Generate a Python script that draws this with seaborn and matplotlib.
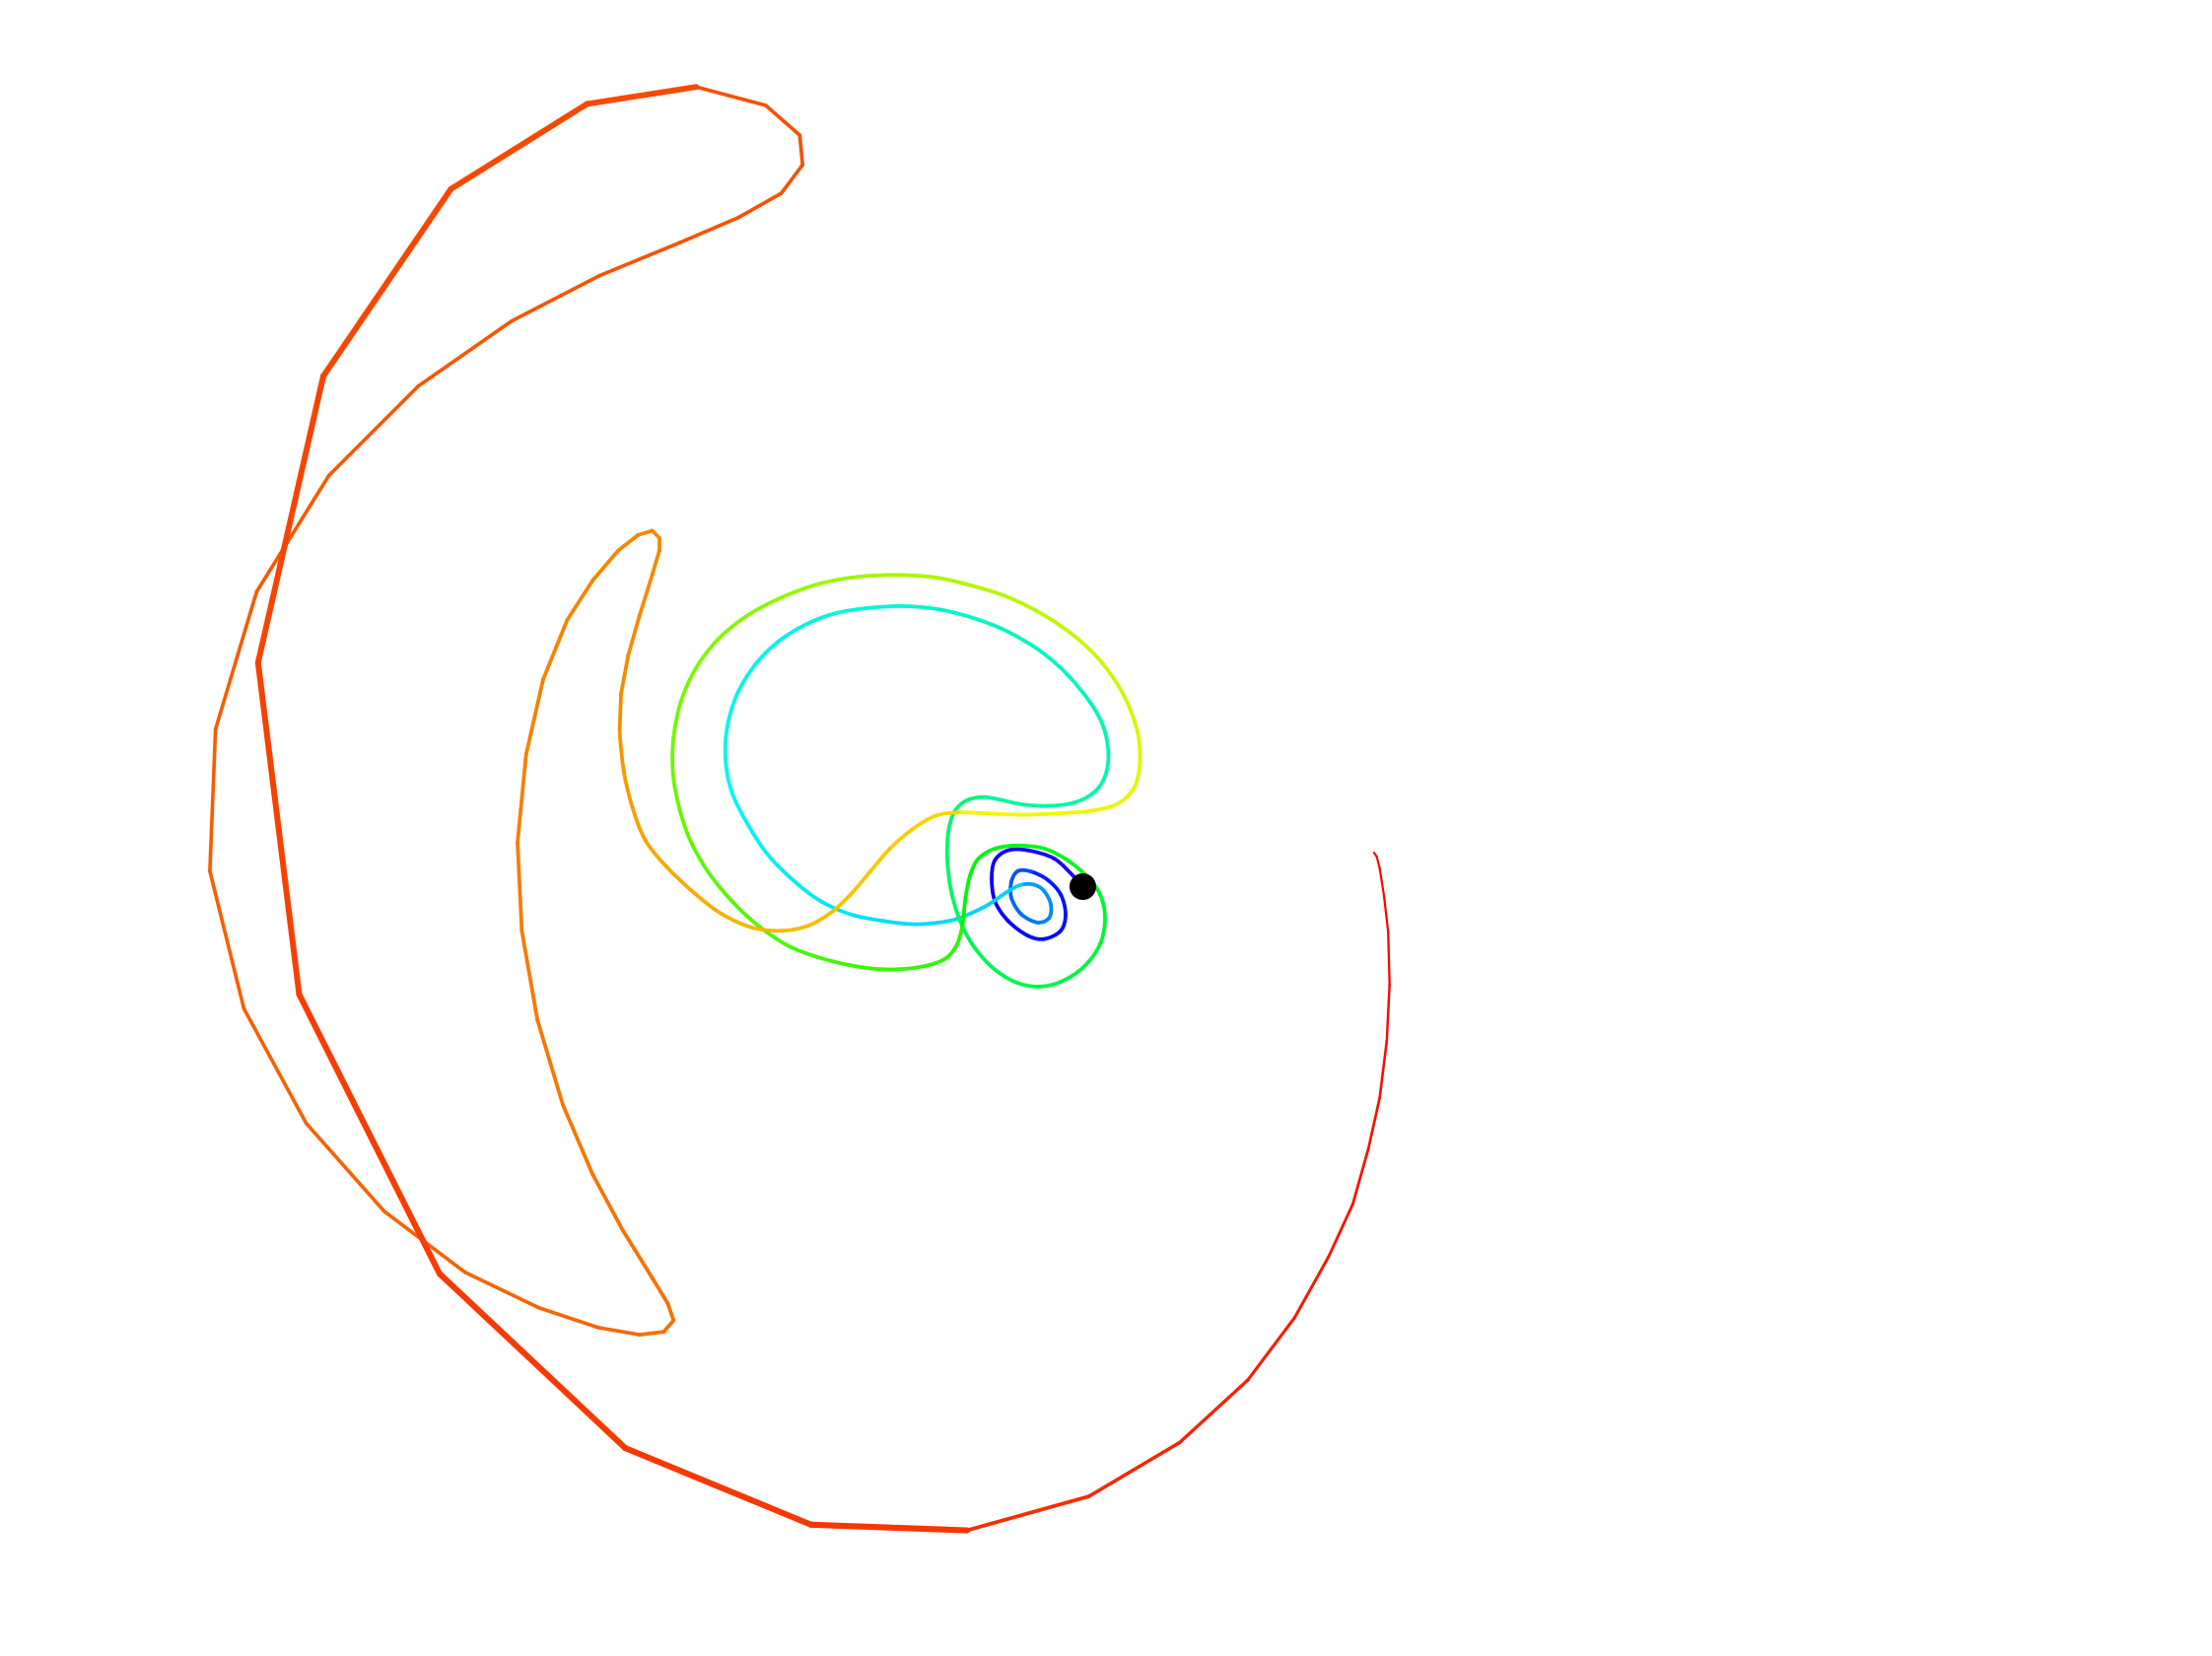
import numpy as np
import matplotlib
matplotlib.use("Agg")
import matplotlib.pyplot as plt
import seaborn as sns
from matplotlib.collections import PathCollection
from matplotlib.path import Path
from matplotlib.colors import hsv_to_rgb

# trajectory, in image units (x right, y down)
blue_xy = [(763.1, 625.9), (757.3, 618.9), (743.4, 606.2), (724.9, 600.4), (711.0, 600.4),
           (701.7, 607.3), (699.4, 620.1), (701.7, 636.3), (711.0, 650.2), (724.9, 660.6),
           (736.5, 662.9), (748.1, 657.1), (751.5, 645.5), (748.1, 631.6), (738.8, 621.2),
           (727.2, 615.4)]

light_blue_xy = [(727.2, 615.4), (717.9, 615.0), (713.3, 622.4), (713.3, 634.0), (720.3, 645.5),
                 (731.8, 651.3), (740.0, 647.9), (741.1, 638.6), (736.5, 629.3), (729.5, 624.7),
                 (720.3, 624.7)]

cyan_xy = [(720.3, 624.7), (711.0, 629.3), (697.1, 638.6), (683.2, 645.5), (669.3, 650.2),
           (646.1, 652.5), (622.9, 650.2), (599.8, 645.5), (578.9, 636.3), (560.4, 622.4),
           (541.8, 603.8), (527.9, 583.0), (516.3, 559.8), (511.7, 536.6), (512.9, 513.5),
           (519.8, 490.3), (532.6, 469.4), (548.8, 453.2), (567.3, 441.6), (588.2, 433.5),
           (611.3, 429.6), (636.8, 428.2), (662.3, 430.5), (687.8, 437.0), (711.0, 446.3),
           (734.2, 460.2), (752.7, 476.4), (768.9, 496.1), (778.2, 513.5), (781.7, 532.0),
           (779.3, 548.2), (771.2, 559.8), (757.3, 566.8), (738.8, 569.1), (720.3, 567.9),
           (704.0, 564.4), (692.5, 562.8)]

green_xy = [(692.5, 562.8), (680.9, 565.6), (672.8, 573.7), (668.8, 587.6), (668.1, 606.2),
            (670.4, 627.0), (676.2, 647.9), (685.5, 666.4), (699.4, 682.6), (715.6, 693.1),
            (731.8, 696.5), (748.1, 693.1), (764.3, 682.6), (775.9, 666.4), (779.3, 647.9),
            (775.9, 631.6), (766.6, 618.9), (752.7, 607.3), (736.5, 599.2), (717.9, 597.0),
            (701.7, 599.2), (690.1, 606.2), (684.3, 617.7), (680.9, 634.0), (678.5, 654.8)]

lime_xy = [(678.5, 654.8), (673.9, 668.7), (664.6, 678.0), (646.1, 683.1), (622.9, 684.3),
           (599.8, 681.5), (576.6, 675.7), (555.7, 667.6), (534.9, 653.7), (516.3, 636.3),
           (500.1, 616.6), (487.4, 594.6), (479.3, 571.4), (474.6, 545.9), (475.1, 520.4),
           (480.4, 494.9), (490.9, 471.8), (505.9, 452.1), (525.6, 435.8), (548.8, 423.1),
           (576.6, 412.7), (604.4, 407.6), (632.2, 406.2), (660.0, 408.0), (685.5, 413.8),
           (711.0, 421.9), (736.5, 434.7), (759.7, 450.9), (778.2, 469.4), (793.3, 492.6),
           (802.5, 518.1), (803.7, 541.3), (799.0, 557.5), (787.5, 567.9), (768.9, 572.6),
           (745.7, 574.4), (720.3, 575.3), (697.1, 574.4), (676.2, 573.7)]

yellow_xy = [(676.2, 573.7), (660.0, 576.0), (643.8, 585.3), (627.6, 599.2), (613.7, 615.4),
             (599.8, 631.6), (585.9, 644.4), (569.6, 653.7), (551.1, 657.1), (530.2, 654.8),
             (509.4, 645.5), (490.9, 631.6), (470.0, 611.9), (455, 593), (446, 570),
             (440, 545), (437, 515)]

orange_xy = [(437, 515), (438, 490), (443, 463), (451, 435), (460, 406),
             (465, 389), (465, 380), (460, 375), (450, 378), (436, 389), (418, 410),
             (400, 438), (383, 480), (371, 533), (365, 595), (368, 657), (379, 720),
             (397, 780), (418, 829), (439, 868), (460, 902), (471, 920), (475, 932),
             (468, 940), (451, 942)]

outer_xy = [(451, 942), (422, 937), (380, 923), (328, 898), (271, 855), (216, 793),
            (172, 712), (148, 615), (152, 515), (181, 418), (232, 336), (295, 273),
            (361, 227), (423, 195), (479, 172), (521, 154), (551, 137), (566, 117),
            (564, 96), (540, 75), (491, 62)]

fast_xy = [(491, 62), (414, 74), (318, 134), (228, 266), (182, 468), (211, 702),
           (310, 899), (441, 1022), (572, 1076), (682, 1080)]

red_xy = [(682, 1080), (768, 1056), (832, 1018), (880, 974), (913, 930), (937, 887),
          (954, 850), (965, 811), (973, 775), (978, 735), (980, 695), (979, 658),
          (976, 632), (973, 613), (971, 605), (969, 602)]

# piece, hue at start, hue at end (degrees), width at start, width at end, smooth
pieces = [
    (blue_xy, 250, 232, 2.7, 2.7, True),
    (light_blue_xy, 222, 200, 2.7, 2.7, True),
    (cyan_xy, 190, 158, 2.7, 2.7, True),
    (green_xy, 150, 120, 2.7, 2.7, True),
    (lime_xy, 110, 58, 2.7, 2.7, True),
    (yellow_xy, 52, 36, 2.7, 2.7, True),
    (orange_xy, 34, 27, 2.7, 2.7, False),
    (outer_xy, 25, 19, 2.6, 2.6, False),
    (fast_xy, 18, 13, 4.2, 4.4, False),
    (red_xy, 12, 0, 2.8, 1.5, False),
]

W, H = 1560, 1168.6


def build_segments():
    pts, colors, widths, smooth = [], [], [], []
    for k, (xy, h0, h1, w0, w1, sm) in enumerate(pieces):
        p = np.array(xy, dtype=float)
        seg_len = np.hypot(*(p[1:] - p[:-1]).T)
        mid = np.cumsum(seg_len) - seg_len / 2
        frac = mid / seg_len.sum()
        hue = (h0 + (h1 - h0) * frac) / 360.0
        rgb = hsv_to_rgb(np.column_stack([hue, np.ones_like(hue), np.full_like(hue, 0.97)]))
        pts.extend(xy if k == 0 else xy[1:])
        colors.append(rgb)
        widths.append(w0 + (w1 - w0) * frac)
        smooth.extend([sm] * len(seg_len))
    return np.array(pts, dtype=float), np.concatenate(colors), np.concatenate(widths), smooth


def segment_paths(pts, smooth):
    # one path per segment; smooth pieces drawn as Catmull-Rom style cubic curves
    n = len(pts)
    paths = []
    for i in range(n - 1):
        a, b = pts[i], pts[i + 1]
        if smooth[i]:
            prev = pts[i - 1] if i > 0 else a
            nxt = pts[i + 2] if i + 2 < n else b
            c1 = a + (b - prev) / 6.0
            c2 = b - (nxt - a) / 6.0
            paths.append(Path([a, c1, c2, b], [Path.MOVETO, Path.CURVE4, Path.CURVE4, Path.CURVE4]))
        else:
            paths.append(Path([a, b], [Path.MOVETO, Path.LINETO]))
    return paths


def main():
    sns.set_theme(style="white")

    fig = plt.figure(figsize=(22.44, 16.81), dpi=100)
    ax = fig.add_axes([0, 0, 1, 1])

    pts, colors, widths, smooth = build_segments()
    paths = segment_paths(pts, smooth)
    pc = PathCollection(paths, facecolors="none", edgecolors=colors, linewidths=widths,
                        capstyle="round", joinstyle="round")
    ax.add_collection(pc)

    # start point
    sns.scatterplot(x=[pts[0, 0]], y=[pts[0, 1]], color="black", s=380,
                    linewidth=0, ax=ax, zorder=5, legend=False)

    ax.set_xlim(0, W)
    ax.set_ylim(H, 0)
    ax.axis("off")

    fig.savefig("out.png", dpi=100, facecolor="white")
    plt.close(fig)


if __name__ == "__main__":
    main()
